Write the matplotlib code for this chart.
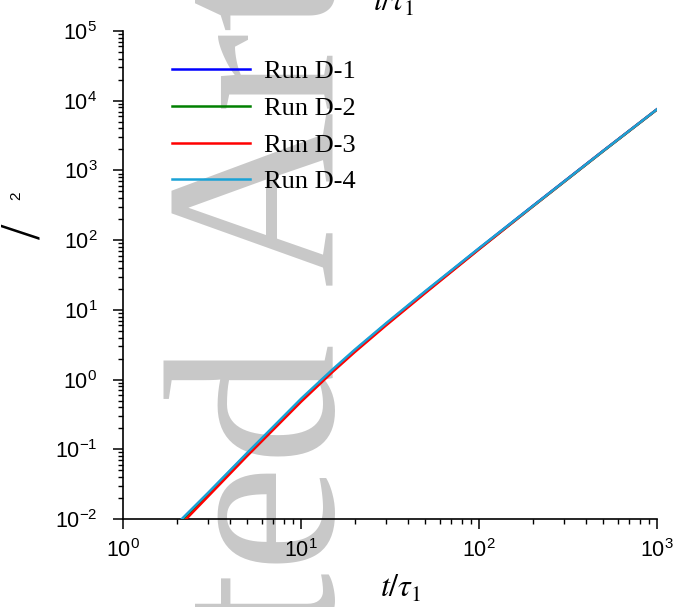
import matplotlib
matplotlib.use("Agg")
import matplotlib.pyplot as plt
from matplotlib.ticker import LogLocator

# data
t = [2.0, 3, 5, 7, 10, 15, 20, 30, 50, 100, 200, 500, 1000]
run_d1 = [0.0083, 0.0232, 0.087, 0.205, 0.51, 1.35, 2.60, 6.27, 18.3, 75.9, 308, 1923, 7535]
run_d2 = [0.0080, 0.0226, 0.086, 0.202, 0.50, 1.33, 2.56, 6.15, 17.9, 74.5, 303, 1900, 7480]
run_d3 = [0.0072, 0.0210, 0.081, 0.192, 0.48, 1.28, 2.47, 5.97, 17.5, 73.8, 303, 1910, 7510]
run_d4 = [0.0084, 0.0236, 0.0895, 0.212, 0.53, 1.39, 2.67, 6.40, 18.6, 76.5, 306, 1915, 7530]
labels = ['Run D-1', 'Run D-2', 'Run D-3', 'Run D-4']
colors = ['#0000ff', '#008000', '#ff0000', '#1aa2d6']

plt.rcParams['font.family'] = ['Liberation Sans', 'DejaVu Sans']
plt.rcParams['mathtext.fontset'] = 'stix'
plt.rcParams['mathtext.default'] = 'regular'

W, H = 675, 607
fig = plt.figure(figsize=(6.75, 6.07), dpi=100)
ax = fig.add_axes([123 / W, 1 - 519 / H, (657 - 123) / W, (519 - 31) / H])
ax.set_facecolor('none')

def fx(px):
    return px / W

def fy(py):
    return 1 - py / H

# watermark
wm = dict(transform=fig.transFigure, rotation=90, rotation_mode='anchor',
          va='baseline', fontsize=175, color='#c8c8c8',
          family='Liberation Serif', clip_on=False, zorder=0)
ax.text(fx(332), fy(340), 'Accepted', ha='right', **wm)
ax.text(fx(332), fy(285), 'Article', ha='left', **wm)

for ys, lab, c in zip([run_d1, run_d2, run_d3, run_d4], labels, colors):
    ax.plot(t, ys, color=c, lw=1.8, label=lab, zorder=3)

ax.set_xscale('log')
ax.set_yscale('log')
ax.set_xlim(1, 1000)
ax.set_ylim(1e-2, 1e5)
ax.yaxis.set_major_locator(LogLocator(base=10, numticks=20))
ax.yaxis.set_minor_locator(LogLocator(base=10, subs=range(2, 10), numticks=20))

for s in ['top', 'right']:
    ax.spines[s].set_visible(False)
for s in ['left', 'bottom']:
    ax.spines[s].set_linewidth(1.2)

ax.tick_params(which='major', direction='out', length=7.5, width=1.1, labelsize=15.5)
ax.tick_params(which='minor', direction='out', length=3.8, width=1.0)
ax.tick_params(axis='x', which='major', pad=7)
ax.tick_params(axis='y', which='major', pad=11)

leg = ax.legend(loc='upper left', bbox_to_anchor=(fx(172), fy(60)),
                bbox_transform=fig.transFigure, frameon=False, borderpad=0,
                borderaxespad=0, handlelength=2.95, handletextpad=0.52,
                labelspacing=0.5, prop={'family': 'Liberation Serif', 'size': 19})
leg.set_zorder(5)

# axis labels
xlab = r'$\mathit{t}\mathrm{/}\mathit{\tau}_\mathrm{1}$'
fig.text(fx(401), fy(588), xlab, fontsize=23, ha='center', va='center')
fig.text(fx(394), fy(2), xlab, fontsize=23, ha='center', va='center')
fig.text(fx(26), fy(231), '/', fontsize=40, rotation=90, ha='center', va='center',
         family='Liberation Serif')
fig.text(fx(16), fy(196), '2', fontsize=11, rotation=90, ha='center', va='center')

fig.savefig('out.png', dpi=100)
